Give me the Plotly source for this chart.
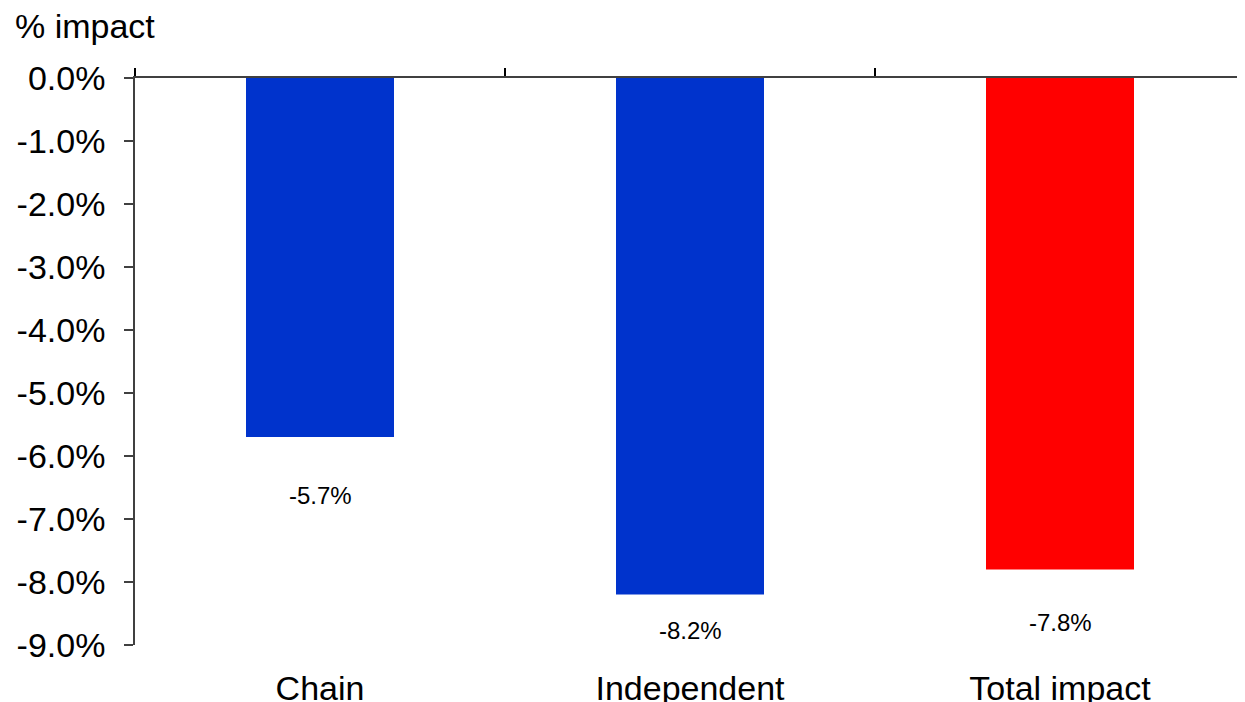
import plotly.graph_objects as go

categories = ["Chain", "Independent", "Total impact"]
values = [-5.7, -8.2, -7.8]
bar_colors = ["#0033CC", "#0033CC", "#FF0000"]
label_texts = ["-5.7%", "-8.2%", "-7.8%"]
label_shift = [-58, -36, -53]
y_ticks = [0, -1, -2, -3, -4, -5, -6, -7, -8, -9]
y_tick_labels = ["0.0%", "-1.0%", "-2.0%", "-3.0%", "-4.0%", "-5.0%", "-6.0%", "-7.0%", "-8.0%", "-9.0%"]

FONT = "Liberation Sans, Arial, sans-serif"
AXIS_COLOR = "#404040"

fig = go.Figure()
fig.add_trace(go.Bar(
    x=categories, y=values, marker=dict(color=bar_colors, line=dict(width=0)),
    width=0.4, xaxis="x", yaxis="y", showlegend=False, hoverinfo="x+y",
))

for cat, val, txt, sh in zip(categories, values, label_texts, label_shift):
    fig.add_annotation(x=cat, y=val, xref="x", yref="y", text=txt, showarrow=False,
                       yshift=sh, font=dict(family=FONT, size=24, color="#000000"))

fig.add_annotation(x=0, y=1, xref="paper", yref="paper", xanchor="left", yanchor="bottom",
                   xshift=-122, yshift=31, text="% impact", showarrow=False,
                   font=dict(family=FONT, size=34, color="#000000"))

fig.update_layout(
    width=1245, height=702,
    margin=dict(l=127, r=8, t=70, b=65, autoexpand=False),
    paper_bgcolor="white", plot_bgcolor="white",
    xaxis=dict(
        type="category", categoryorder="array", categoryarray=categories,
        range=[-0.5, len(categories) - 0.5],
        side="top", showline=True, linecolor=AXIS_COLOR, linewidth=1.5,
        ticks="outside", tickson="boundaries", ticklen=8, tickcolor="#000000", tickwidth=1.5,
        showticklabels=False, showgrid=False, zeroline=False, fixedrange=True,
    ),
    xaxis2=dict(
        overlaying="x", anchor="y", side="bottom",
        range=[-0.5, len(categories) - 0.5],
        tickmode="array", tickvals=list(range(len(categories))), ticktext=categories,
        showline=False, ticks="", showgrid=False, zeroline=False,
        ticklabelstandoff=20,
        tickfont=dict(family=FONT, size=34, color="#000000"),
    ),
    yaxis=dict(
        range=[-9, 0], tickmode="array", tickvals=y_ticks, ticktext=y_tick_labels,
        showline=True, linecolor=AXIS_COLOR, linewidth=1.5,
        ticks="outside", ticklen=9, tickcolor=AXIS_COLOR, tickwidth=1.5,
        ticklabelstandoff=12,
        showgrid=False, zeroline=False,
        tickfont=dict(family=FONT, size=34, color="#000000"),
    ),
)
# invisible trace so the bottom category-label axis is drawn
fig.add_trace(go.Scatter(x=[0], y=[0], xaxis="x2", yaxis="y", mode="markers",
                         marker=dict(opacity=0), showlegend=False, hoverinfo="skip"))

fig.write_html("out.html")
